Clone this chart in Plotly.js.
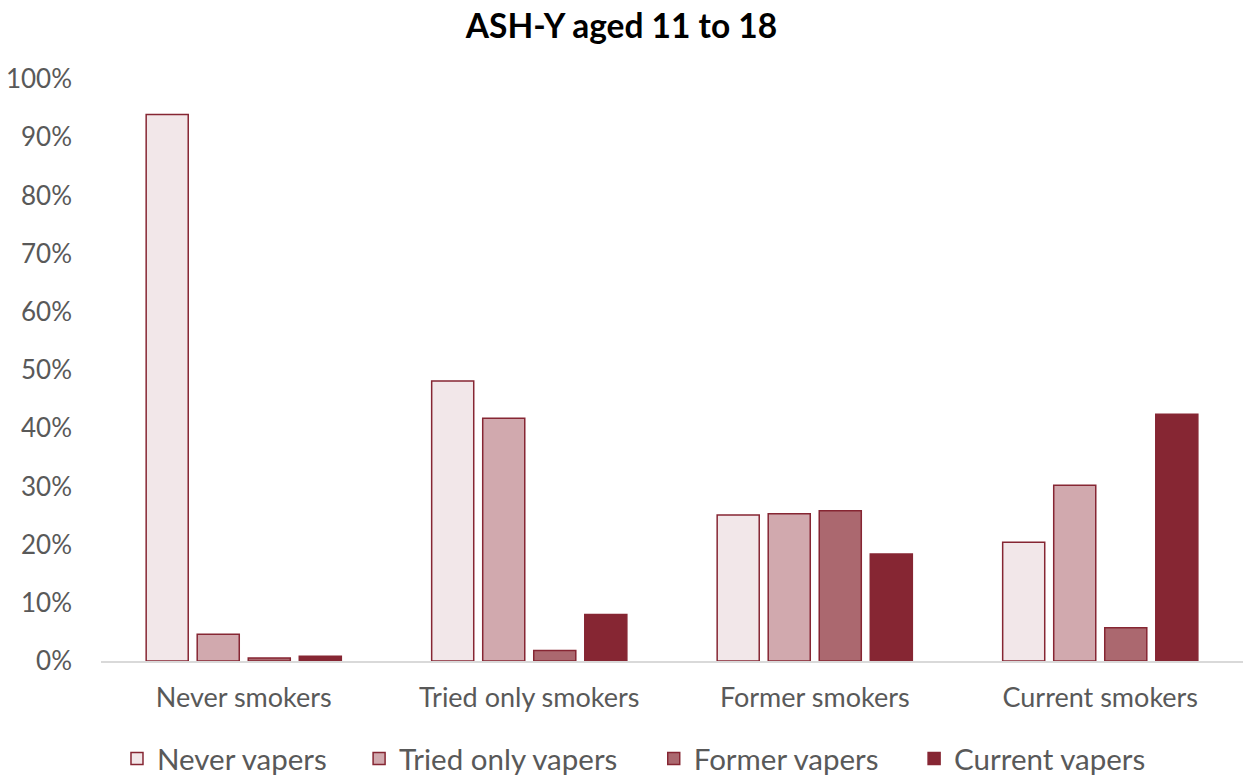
<!DOCTYPE html>
<html><head><meta charset="utf-8">
<script src="https://cdn.plot.ly/plotly-3.0.1.min.js"></script>
<style>body{margin:0;background:#fff}#chart{width:1243px;height:775px}</style>
</head><body><div id="chart"></div>
<script>
const categories = ["Never smokers", "Tried only smokers", "Former smokers", "Current smokers"];
const seriesNames = ["Never vapers", "Tried only vapers", "Former vapers", "Current vapers"];
const neverVapers = [93.9, 48.1, 25.1, 20.4];
const triedOnlyVapers = [4.6, 41.7, 25.3, 30.2];
const formerVapers = [0.5, 1.8, 25.8, 5.7];
const currentVapers = [0.8, 8.0, 18.4, 42.4];
const yTickVals = [0, 10, 20, 30, 40, 50, 60, 70, 80, 90, 100];
const yTickText = ["0%", "10%", "20%", "30%", "40%", "50%", "60%", "70%", "80%", "90%", "100%"];

const values = [neverVapers, triedOnlyVapers, formerVapers, currentVapers];
const fills = ["#F2E7E9", "#D1A9AE", "#AB686F", "#862633"];
const font = "Lato, 'Open Sans', sans-serif";
const legendIds = ["legend", "legend2", "legend3", "legend4"];
const legendX = [0.014, 0.226, 0.484, 0.712];

const traces = values.map((v, i) => ({
  type: "bar", name: seriesNames[i], x: categories, y: v, legend: legendIds[i],
  marker: {color: fills[i], line: {color: "#862633", width: 1.5}},
  hoverinfo: "x+y"
}));

const layout = {
  width: 1243, height: 775,
  margin: {l: 101, r: 0, t: 79, b: 114, autoexpand: false},
  paper_bgcolor: "#fff", plot_bgcolor: "#fff",
  title: {text: "<b>ASH-Y aged 11 to 18</b>", x: 0.5, xanchor: "center", y: 0.966, yanchor: "middle",
          font: {family: font, size: 33.5, color: "#000"}},
  barmode: "group", bargap: 0.285, bargroupgap: 0.176,
  xaxis: {showline: true, linecolor: "#D9D9D9", linewidth: 1.5, ticks: "", showgrid: false,
          tickfont: {family: font, size: 27, color: "#595959"}, ticklabelstandoff: 12},
  yaxis: {range: [0, 100], tickmode: "array", tickvals: yTickVals, ticktext: yTickText,
          showgrid: false, zeroline: false, showline: false, ticks: "",
          tickfont: {family: font, size: 26, color: "#595959"}, ticklabelstandoff: 28},
  showlegend: true
};
legendIds.forEach((id, i) => {
  layout[id] = {orientation: "h", x: legendX[i], xanchor: "left", y: -0.168, yanchor: "middle",
                font: {family: font, size: 29.5, color: "#595959"}, itemwidth: 30, bgcolor: "rgba(0,0,0,0)"};
});

Plotly.newPlot("chart", traces, layout, {displayModeBar: false, staticPlot: true});
</script></body></html>
